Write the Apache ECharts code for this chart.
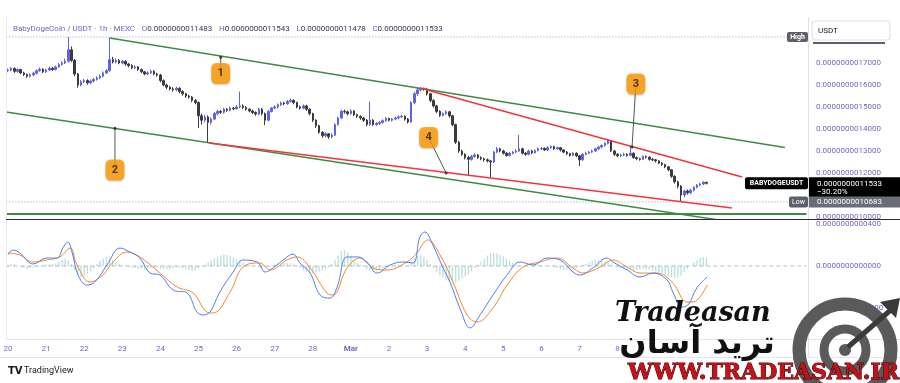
<!DOCTYPE html>
<html><head><meta charset="utf-8">
<script src="https://cdn.jsdelivr.net/npm/echarts/dist/echarts.min.js"></script>
<style>html,body{margin:0;padding:0;background:#fff}#c{width:900px;height:383px}</style>
</head><body><div id="c"></div>
<script>
// ---------- DATA (price in units of 1e-12 USDT, MACD in units of 1e-13) ----------
const dayLabels = ['20','21','22','23','24','25','26','27','28','Mar','2','3','4','5','6','7','8'];
const firstOpen = 1665;
const closes = [
1668,1675,1662,1670,1655,1648,1640,1646,1653,1665,
1672,1660,1668,1676,1670,1682,1693,1700,1708,1760,
1712,1650,1600,1615,1620,1610,1618,1625,1632,1640,
1655,1665,1715,1705,1712,1700,1708,1695,1688,1678,
1682,1670,1660,1650,1655,1662,1650,1645,1620,1600,
1590,1582,1578,1585,1570,1560,1550,1545,1530,1520,
1460,1440,1455,1430,1445,1470,1480,1476,1490,1485,
1495,1492,1500,1505,1498,1490,1482,1475,1468,1490,
1470,1440,1480,1495,1500,1510,1518,1515,1525,1530,
1520,1500,1495,1505,1490,1470,1440,1415,1385,1370,
1378,1365,1372,1420,1450,1480,1478,1470,1482,1465,
1458,1450,1440,1420,1440,1420,1425,1430,1438,1448,
1440,1445,1450,1455,1458,1445,1432,1520,1560,1578,
1585,1582,1560,1530,1505,1480,1462,1470,1478,1460,
1420,1340,1300,1285,1270,1262,1275,1282,1270,1265,
1260,1255,1250,1295,1310,1300,1290,1280,1290,1295,
1300,1310,1290,1285,1300,1292,1302,1310,1312,1305,
1315,1320,1310,1315,1305,1295,1288,1280,1290,1278,
1260,1285,1290,1295,1300,1310,1318,1325,1335,1345,
1300,1285,1278,1282,1285,1280,1290,1270,1265,1262,
1275,1272,1262,1260,1255,1245,1238,1228,1215,1185,
1160,1140,1100,1118,1110,1122,1135,1145,1150,1158,
1153.3];
const highs = [
1675,1682,1680,1676,1674,1660,1652,1652,1660,1670,
1680,1676,1674,1684,1682,1688,1700,1708,1720,1818,
1775,1718,1655,1622,1628,1626,1625,1632,1640,1648,
1662,1672,1814,1728,1720,1718,1714,1712,1700,1694,
1690,1686,1675,1664,1662,1670,1668,1656,1650,1625,
1606,1596,1590,1592,1590,1576,1565,1556,1550,1536,
1525,1470,1465,1462,1452,1478,1488,1486,1496,1495,
1502,1500,1508,1570,1512,1504,1495,1488,1480,1496,
1495,1475,1486,1500,1508,1516,1525,1524,1532,1538,
1535,1524,1506,1512,1510,1494,1474,1444,1420,1390,
1385,1382,1380,1426,1456,1488,1488,1484,1490,1486,
1470,1462,1455,1445,1525,1445,1432,1436,1444,1455,
1452,1450,1456,1462,1465,1462,1450,1526,1568,1586,
1590,1588,1586,1564,1535,1510,1485,1476,1485,1482,
1464,1424,1346,1306,1290,1278,1282,1290,1286,1276,
1270,1266,1260,1300,1318,1315,1305,1295,1296,1300,
1308,1373,1315,1295,1306,1305,1308,1316,1318,1316,
1322,1326,1324,1320,1318,1308,1300,1292,1295,1294,
1282,1290,1296,1300,1306,1315,1324,1330,1340,1352,
1348,1305,1290,1288,1292,1290,1325,1294,1275,1270,
1280,1280,1276,1268,1264,1258,1250,1242,1232,1218,
1190,1165,1145,1124,1125,1128,1140,1150,1156,1162,
1160];
const lows = [
1658,1662,1655,1656,1650,1641,1632,1634,1640,1648,
1660,1654,1655,1664,1664,1666,1678,1688,1695,1702,
1705,1640,1588,1594,1608,1602,1604,1612,1620,1626,
1635,1650,1660,1698,1698,1694,1694,1688,1680,1672,
1672,1664,1654,1644,1645,1650,1644,1638,1612,1594,
1582,1575,1570,1572,1562,1552,1542,1538,1522,1512,
1405,1420,1430,1336,1420,1440,1462,1468,1470,1478,
1480,1485,1488,1495,1490,1484,1476,1468,1460,1462,
1462,1418,1435,1475,1490,1494,1505,1508,1510,1520,
1512,1494,1488,1490,1482,1462,1432,1405,1378,1360,
1362,1355,1358,1368,1415,1445,1470,1462,1465,1458,
1450,1442,1432,1412,1415,1414,1414,1418,1424,1432,
1434,1434,1440,1444,1450,1438,1425,1428,1512,1550,
1570,1574,1552,1522,1498,1472,1455,1456,1465,1452,
1412,1332,1292,1278,1262,1191,1256,1270,1264,1258,
1252,1248,1182,1245,1290,1294,1284,1274,1275,1284,
1290,1295,1284,1278,1280,1286,1288,1298,1304,1300,
1300,1310,1305,1305,1298,1290,1282,1274,1276,1272,
1232,1255,1280,1285,1290,1296,1305,1312,1320,1330,
1295,1278,1272,1272,1276,1274,1276,1264,1258,1256,
1258,1266,1256,1254,1248,1240,1232,1222,1208,1178,
1152,1130,1068,1090,1102,1104,1116,1130,1140,1145,
1147.8];
// MACD pane: [day since Feb 20, value]
const macdLine = [[0,105],[0.13,152],[0.31,124],[0.66,19],[1.02,76],[1.29,76],[1.44,171],[1.57,228],[1.68,133],[1.84,-86],[2.07,-181],[2.28,-152],[2.6,10],[2.94,171],[3.2,133],[3.46,76],[3.73,-67],[3.99,-86],[4.33,-228],[4.7,-257],[4.96,-438],[5.12,-466],[5.3,-438],[5.56,-248],[5.91,-57],[6.17,57],[6.54,38],[6.75,-57],[6.88,-38],[7.22,57],[7.48,114],[7.66,29],[7.93,-67],[8.19,-276],[8.45,-305],[8.64,-200],[8.9,86],[9.19,86],[9.42,38],[9.69,-67],[10.03,10],[10.37,38],[10.63,29],[10.81,276],[10.94,324],[11.15,200],[11.42,-19],[11.6,-152],[11.86,-400],[12.13,-590],[12.39,-466],[12.73,-276],[13.1,-86],[13.44,38],[13.78,10],[14.15,76],[14.49,57],[14.83,-57],[15.01,-86],[15.35,-19],[15.72,76],[15.88,38],[16.25,-38],[16.59,-105],[16.93,-67],[17.3,-133],[17.45,-248],[17.69,-390],[17.85,-371],[18.08,-209],[18.35,-105]];
const signalLine = [[0,124],[0.31,105],[0.66,38],[1.02,57],[1.36,86],[1.63,171],[1.81,10],[2.15,-152],[2.49,-86],[2.76,38],[3.12,133],[3.46,86],[3.99,-67],[4.44,-200],[4.86,-257],[5.22,-438],[5.38,-448],[5.83,-248],[6.17,-10],[6.61,29],[6.88,-38],[7.32,57],[7.59,86],[7.93,-19],[8.37,-257],[8.53,-276],[8.9,-19],[9.24,76],[9.58,-19],[9.95,-38],[10.47,38],[10.73,124],[11.02,248],[11.34,105],[11.68,-152],[12.05,-466],[12.31,-533],[12.73,-400],[13.1,-181],[13.52,-10],[13.96,38],[14.41,76],[14.83,-19],[15.09,-67],[15.54,-10],[15.88,57],[16.25,-10],[16.59,-67],[17.03,-67],[17.45,-162],[17.82,-343],[17.98,-343],[18.35,-181]];
const histogram = [
10,20,15,5,-10,-20,-25,-20,-15,-5,5,10,15,15,20,25,40,60,70,55,
20,-40,-80,-110,-100,-80,-50,-20,20,50,70,80,75,60,40,25,10,0,-10,-15,
-20,-25,-25,-30,-25,-20,-20,-15,-25,-30,-30,-25,-20,-15,-15,-20,-30,-40,-50,-40,
-20,-5,10,30,50,70,90,100,110,105,95,80,60,50,35,20,10,5,-5,-15,
-20,-15,-5,5,15,20,25,30,30,25,15,0,-20,-40,-55,-65,-70,-65,-55,-45,
-30,-10,20,60,100,140,150,130,100,60,30,10,-10,-30,-40,-50,-50,-40,-30,-20,
-5,5,10,10,5,0,5,40,80,100,110,90,60,20,-20,-60,-90,-110,-130,-150,
-160,-155,-140,-120,-100,-80,-50,-20,10,40,70,100,120,125,120,105,90,70,50,30,
15,5,0,-5,0,5,10,15,10,5,0,-5,-10,-20,-30,-35,-35,-30,-25,-20,
-10,5,20,35,50,60,55,50,40,30,15,0,-15,-25,-30,-35,-40,-40,-35,-30,
-25,-30,-35,-40,-50,-60,-70,-80,-95,-105,-115,-110,-90,-60,-30,0,30,55,75,85,
80];
// drawings: [day, price]
const greenUpper = [[2.667,1814],[20.39,1316]];
const greenLower = [[-0.05,1477],[20.5,938]];
const redUpper = [[10.81,1586],[19.27,1182]];
const redLower = [[5.276,1336],[19.0,1041]];
const supportLevel = 1013.6;
const highLevel = 1818, lowLevel = 1068.3;
const notes = [
  {n:'1', dot:[5.583,1726], box:[5.583,1652]},
  {n:'2', dot:[2.808,1403], box:[2.808,1214]},
  {n:'3', dot:[16.38,1318], box:[16.48,1605]},
  {n:'4', dot:[11.50,1200], box:[11.04,1361]}
];
// ---------- CHART ----------
const TOTAL_SLOTS = 252;          // 2h slots incl. empty right margin
const cats = Array.from({length: TOTAL_SLOTS}, (_, i) => String(i));
const dayMin = -0.5/12, dayMax = (TOTAL_SLOTS - 0.5)/12;
const candles = closes.map((c, i) => [i === 0 ? firstOpen : closes[i-1], c, lows[i], highs[i]]);
const PURPLE = '#7a62c6';
const fmtP = v => (v * 1e-12).toFixed(13);
const fmtM = v => (v * 1e-13).toFixed(13);

const chart = echarts.init(document.getElementById('c'), null, {renderer: 'canvas'});
const lineS = (data, color, w, extra) => Object.assign({
  type: 'line', xAxisIndex: 1, yAxisIndex: 0, data, symbol: 'none', silent: true,
  lineStyle: {color, width: w}, z: 5, clip: true, animation: false
}, extra || {});

const series = [
  {type: 'candlestick', xAxisIndex: 0, yAxisIndex: 0, data: candles, barWidth: 2, z: 3,
   itemStyle: {color: '#5d63e6', color0: '#3a3a40', borderColor: '#5d63e6', borderColor0: '#3a3a40', borderWidth: 1}},
  lineS([[dayMin, highLevel],[dayMax, highLevel]], '#9598a1', 1, {lineStyle: {color: '#9598a1', width: 1, type: [1, 2]}, z: 2}),
  lineS([[dayMin, lowLevel],[dayMax, lowLevel]], '#9598a1', 1, {lineStyle: {color: '#9598a1', width: 1, type: [1, 2]}, z: 2}),
  lineS([[dayMin, supportLevel],[dayMax, supportLevel]], '#3f8a43', 2),
  lineS(greenUpper, '#3f8a43', 1.5),
  lineS(greenLower, '#3f8a43', 1.5),
  lineS(redUpper, '#f0353f', 1.6),
  lineS(redLower, '#f0353f', 1.6)
];
notes.forEach(nt => {
  series.push(lineS([nt.dot, nt.box], '#555', 1, {z: 6}));
});
series.push({type: 'scatter', xAxisIndex: 1, yAxisIndex: 0, z: 7, symbol: 'circle', symbolSize: 3,
  itemStyle: {color: '#222'}, data: notes.map(n => n.dot), silent: true});
series.push({type: 'scatter', xAxisIndex: 1, yAxisIndex: 0, z: 8, symbol: 'roundRect', symbolSize: [19, 21],
  itemStyle: {color: '#ff9800', shadowColor: 'rgba(0,0,0,0.25)', shadowBlur: 2, shadowOffsetY: 1}, silent: true,
  data: notes.map(n => ({value: n.box, label: {show: true, formatter: n.n}})),
  label: {show: true, position: 'inside', color: '#1e1e1e', fontSize: 11, fontWeight: 'bold', fontFamily: 'Roboto'}});
// MACD pane
series.push({type: 'bar', xAxisIndex: 2, yAxisIndex: 1, data: histogram, barWidth: 1.4,
  itemStyle: {color: 'rgba(64,170,165,0.35)'}, silent: true});
series.push({type: 'line', xAxisIndex: 3, yAxisIndex: 1, data: [[dayMin, 0],[dayMax, 0]], symbol: 'none', silent: true,
  lineStyle: {color: '#b9bcc4', width: 1, type: [4, 3]}, z: 1});
series.push({type: 'line', xAxisIndex: 3, yAxisIndex: 1, data: signalLine, symbol: 'none', smooth: 0.4, silent: true,
  lineStyle: {color: '#f7862a', width: 1}, z: 4});
series.push({type: 'line', xAxisIndex: 3, yAxisIndex: 1, data: macdLine, symbol: 'none', smooth: 0.4, silent: true,
  lineStyle: {color: '#4f7ff0', width: 1}, z: 5});

const option = {
  animation: false,
  backgroundColor: '#ffffff',
  grid: [
    {left: 6.4, width: 800.1, top: 18, height: 201},
    {left: 6.4, width: 800.1, top: 219, height: 120}
  ],
  xAxis: [
    {type: 'category', gridIndex: 0, data: cats, boundaryGap: true, show: false},
    {type: 'value', gridIndex: 0, min: dayMin, max: dayMax, show: false},
    {type: 'category', gridIndex: 1, data: cats, boundaryGap: true,
     axisLine: {show: false}, axisTick: {show: false}, splitLine: {show: false},
     axisLabel: {show: true, margin: 6, color: PURPLE, fontSize: 8, fontFamily: 'Roboto',
       interval: (idx) => idx % 12 === 0 && idx / 12 < dayLabels.length,
       formatter: (v, idx) => { const l = dayLabels[Math.round(Number(v) / 12)]; return l === 'Mar' ? '{b|Mar}' : l; },
       rich: {b: {fontWeight: 'bold', color: PURPLE, fontSize: 8, fontFamily: 'Roboto'}}}},
    {type: 'value', gridIndex: 1, min: dayMin, max: dayMax, show: false}
  ],
  yAxis: [
    {type: 'value', gridIndex: 0, position: 'right', min: 990.9, max: 1904.5, scale: true,
     axisLine: {show: false}, axisTick: {show: false}, splitLine: {show: false},
     axisLabel: {show: true, margin: 9.5, color: PURPLE, fontSize: 8, fontFamily: 'Roboto',
       customValues: [1000, 1200, 1300, 1400, 1500, 1600, 1700], formatter: fmtP}},
    {type: 'value', gridIndex: 1, position: 'right', min: -695.2, max: 447.6,
     axisLine: {show: false}, axisTick: {show: false}, splitLine: {show: false},
     axisLabel: {show: true, margin: 9.5, color: PURPLE, fontSize: 8, fontFamily: 'Roboto',
       customValues: [-400, 0, 400], formatter: fmtM}}
  ],
  series
};
chart.setOption(option);

// ---------- overlays (tags, frame, header, watermark) ----------
const yLast = chart.convertToPixel({yAxisIndex: 0}, closes[closes.length - 1]);
const yLow = chart.convertToPixel({yAxisIndex: 0}, lowLevel);
const yHigh = chart.convertToPixel({yAxisIndex: 0}, highLevel);
const T = (x, y, text, o) => ({type: 'text', z: 50, silent: true,
  style: Object.assign({x, y, text, fill: '#131722', fontSize: 8, fontFamily: 'Roboto', align: 'left', verticalAlign: 'middle'}, o || {})});
const L = (x1, y1, x2, y2, c, w) => ({type: 'line', z: 40, silent: true, shape: {x1, y1, x2, y2}, style: {stroke: c, lineWidth: w || 1}});
const R = (x, y, w, h, fill, o) => ({type: 'rect', z: 45, silent: true, shape: {x, y, width: w, height: h, r: (o && o.r) || 0},
  style: Object.assign({fill}, (o && o.style) || {})});

const g = [
  L(6.5, 17, 6.5, 339, '#ece9f5'),
  L(808.5, 17, 808.5, 358, '#e3dff0'),
  L(6, 219.5, 900, 219.5, '#2a2e39', 1.2),
  L(6, 339.5, 900, 339.5, '#e6e3ef'),
  L(0, 357.5, 900, 357.5, '#e6e3ef'),
  // header
  {type: 'text', z: 50, silent: true, style: {x: 13, y: 29, verticalAlign: 'middle', align: 'left',
    text: '{t|BabyDogeCoin / USDT · 1h · MEXC}  {l|O}{v|0.0000000011483}  {l|H}{v|0.0000000011543}  {l|L}{v|0.0000000011478}  {l|C}{v|0.0000000011533}',
    rich: {t: {fill: PURPLE, fontSize: 8, fontFamily: 'Roboto'}, l: {fill: PURPLE, fontSize: 8, fontFamily: 'Roboto'},
           v: {fill: '#3b3550', fontSize: 8, fontFamily: 'Roboto'}}}},
  // High tag
  R(787, yHigh - 5, 21, 10, '#5d606b', {r: 2}),
  T(797.5, yHigh, 'High', {fill: '#fff', fontSize: 7, fontWeight: 'bold', align: 'center'}),
  // USDT box
  R(812, 21, 78, 19, '#fff', {r: 3, style: {stroke: '#dcdde3', lineWidth: 1}}),
  T(818, 30.5, 'USDT', {fontSize: 8}),
  R(813, 42, 72, 2, '#5d606b'),
  // last price tag
  R(745, yLast - 6, 63, 12, '#000', {r: 2}),
  T(776.5, yLast, 'BABYDOGEUSDT', {fill: '#fff', fontSize: 7, fontWeight: 'bold', align: 'center'}),
  R(809, yLast - 6, 91, 20, '#000'),
  T(817, yLast + 0.5, '0.0000000011533', {fill: '#fff', fontSize: 8}),
  T(817, yLast + 9, '−30.20%', {fill: '#fff', fontSize: 8}),
  // low tag
  R(789, yLow - 5.5, 19, 11, '#5d606b', {r: 2}),
  T(798.5, yLow, 'Low', {fill: '#fff', fontSize: 7, align: 'center'}),
  R(809, yLow - 5.5, 91, 11, '#6a6d78'),
  T(817, yLow, '0.0000000010683', {fill: '#fff', fontSize: 8}),
  // TradingView logo
  T(8, 371, 'TV', {fontSize: 10, fontWeight: 'bold', fontFamily: 'DejaVu Sans', fill: '#131722'}),
  T(24, 371, 'TradingView', {fontSize: 9, fill: '#131722', fontFamily: 'Roboto'}),
  // watermark target
  {type: 'circle', z: 60, silent: true, shape: {cx: 845, cy: 350, r: 46}, style: {fill: 'none', stroke: '#5a5a5a', lineWidth: 13}},
  {type: 'circle', z: 60, silent: true, shape: {cx: 845, cy: 350, r: 21}, style: {fill: 'none', stroke: '#5a5a5a', lineWidth: 9}},
  {type: 'circle', z: 60, silent: true, shape: {cx: 845, cy: 350, r: 6}, style: {fill: '#5a5a5a'}},
  {type: 'line', z: 61, silent: true, shape: {x1: 848, y1: 347, x2: 893, y2: 308}, style: {stroke: '#3a3a3a', lineWidth: 5}},
  {type: 'polygon', z: 61, silent: true, shape: {points: [[880, 302], [900, 298], [896, 318], [888, 310]]}, style: {fill: '#3a3a3a'}},
  {type: 'text', z: 62, silent: true, style: {x: 615, y: 314, text: 'Tradeasan', fill: '#111', fontSize: 27, fontStyle: 'italic', fontWeight: 'bold',
    fontFamily: 'DejaVu Serif', align: 'left', verticalAlign: 'middle', shadowColor: 'rgba(0,0,0,0.5)', shadowBlur: 2, shadowOffsetX: 2, shadowOffsetY: 2}},
  {type: 'text', z: 62, silent: true, style: {x: 697, y: 345, text: 'ترید آسان', fill: '#111', fontSize: 32, fontWeight: 'bold',
    fontFamily: 'DejaVu Sans', align: 'center', verticalAlign: 'middle', shadowColor: 'rgba(0,0,0,0.45)', shadowBlur: 2, shadowOffsetX: 2, shadowOffsetY: 2}},
  {type: 'text', z: 63, silent: true, style: {x: 899, y: 373, text: 'WWW.TRADEASAN.IR', fill: '#c8101a', stroke: '#3a0000', lineWidth: 1, fontSize: 22, fontWeight: 'bold',
    fontFamily: 'DejaVu Serif', align: 'right', verticalAlign: 'middle'}}
];
chart.setOption({graphic: g});
</script></body></html>
